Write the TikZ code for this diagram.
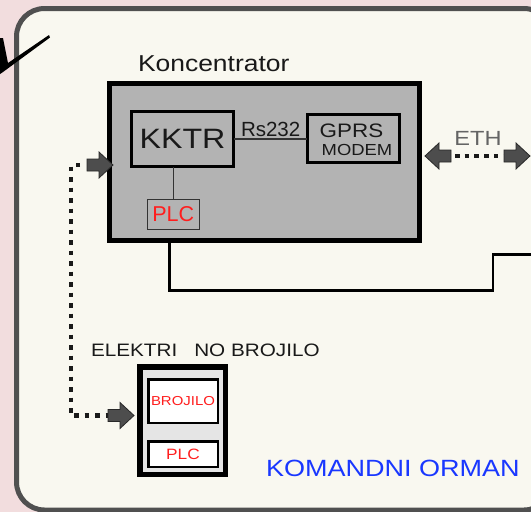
\documentclass[tikz,border=0pt]{standalone}
\usepackage{fontspec}
\setmainfont{Liberation Sans}
\newfontfamily\wf[FakeStretch=1.15]{Liberation Sans}
\newfontfamily\nf{Liberation Sans}
\definecolor{bgpink}{RGB}{242,221,222}
\definecolor{panelfill}{RGB}{249,248,240}
\definecolor{panelline}{RGB}{80,80,80}
\definecolor{koncfill}{RGB}{179,179,179}
\definecolor{brfill}{RGB}{229,229,229}
\definecolor{arrfill}{RGB}{77,77,77}
\definecolor{arrline}{RGB}{40,40,40}
\definecolor{redtxt}{RGB}{255,30,30}
\definecolor{bluetxt}{RGB}{25,55,255}
\definecolor{ethgray}{RGB}{100,100,100}
\definecolor{dotcol}{RGB}{26,26,26}
\tikzset{
  boxnode/.style={draw, rectangle, inner sep=0pt, outer sep=0pt},
  txtnode/.style={inner sep=0pt, outer sep=0pt},
  dotline/.style={draw=dotcol, line width=4.5pt, dash pattern=on 4.5pt off 6pt},
  blockarrow/.pic={\draw[draw=arrline, fill=arrfill, line width=0.8pt, line join=miter]
     (0,-6) -- (12,-6) -- (12,-13) -- (26,0) -- (12,13) -- (12,6) -- (0,6) -- cycle;}
}
\begin{document}
\begin{tikzpicture}[x=1pt,y=-1pt]
\useasboundingbox (0,0) rectangle (531,512);
\fill[bgpink] (0,0) rectangle (531,512);
% panel
\draw[draw=panelline, line width=5pt, fill=panelfill, rounded corners=28pt] (16.5,8.5) rectangle (552,510);
% check mark
\fill[black] (0,38) -- (3,38) -- (8,63) -- (49,35) -- (50,37.5) -- (3,72) -- (0,74) -- cycle;

% labels
\node[txtnode, anchor=base west, font=\wf\fontsize{23pt}{23pt}\selectfont, text=black!90] (klabel) at (138,71) {Koncentrator};

% concentrator
\node[boxnode, line width=5pt, fill=koncfill, minimum width=309.5pt, minimum height=157pt] (konc) at (264.25,162) {};
\node[boxnode, line width=3pt, fill=koncfill, minimum width=102pt, minimum height=55pt,
      font=\wf\fontsize{28pt}{28pt}\selectfont, text=black!90] (kktr) at (182.5,139) {KKTR};
\node[boxnode, draw=black!80, line width=1.3pt, fill=koncfill, minimum width=52pt, minimum height=30pt,
      font=\nf\fontsize{21.5pt}{21.5pt}\selectfont, text=redtxt] (plck) at (173.3,214.3) {PLC};
\node[boxnode, line width=2.8pt, fill=koncfill, minimum width=92.4pt, minimum height=48.4pt] (gprs) at (353.5,138.5) {};
\node[txtnode, anchor=base, font=\wf\fontsize{19.5pt}{19.5pt}\selectfont, text=black!90] (gprstxt) at (351.5,137) {GPRS};
\node[txtnode, anchor=base, font=\wf\fontsize{16pt}{16pt}\selectfont, text=black!90] (modemtxt) at (357,155) {MODEM};
\draw[line width=1.3pt, black!80] (plck.north) -- (plck.north |- kktr.south);
\draw[line width=1.5pt, black!80] (kktr.east) -- (kktr.east -| gprs.west);
\node[txtnode, anchor=base west, font=\nf\fontsize{20.5pt}{20.5pt}\selectfont, text=black!90] (rs) at (241,136) {Rs232};

% ETH
\node[txtnode, anchor=base, font=\wf\fontsize{20.5pt}{20.5pt}\selectfont, text=ethgray] (eth) at (478,145) {ETH};
\coordinate (el) at (451,156);
\coordinate (er) at (504,156);
\draw[draw=dotcol, line width=4.5pt, dash pattern=on 4.5pt off 5.2pt, shorten <=4pt] (el) -- (er);
\pic[rotate=180] at (el) {blockarrow};
\pic at (er) {blockarrow};

% bottom line
\coordinate (kb) at (169.5,243);
\coordinate (b1) at (493,290.5);
\coordinate (bout) at (536,254.5);
\draw[line width=2.2pt, black] (kb) |- (b1) |- (bout);

% meter
\node[txtnode, anchor=base west, font=\wf\fontsize{18pt}{18pt}\selectfont, text=black!90] (eltxt) at (91,356) {ELEKTRI\hspace{17pt}NO BROJILO};
\node[boxnode, line width=5.5pt, fill=brfill, minimum width=85.5pt, minimum height=107.5pt] (broj) at (182.5,420.5) {};
\node[boxnode, line width=2.5pt, fill=white, minimum width=69.5pt, minimum height=43.5pt,
      font=\wf\fontsize{13pt}{13pt}\selectfont, text=redtxt] (brin) at (183,401) {BROJILO};
\node[boxnode, line width=2.5pt, fill=white, minimum width=69.5pt, minimum height=25.5pt,
      font=\wf\fontsize{15pt}{15pt}\selectfont, text=redtxt] (plcb) at (183,454) {PLC};

% dotted link
\coordinate (ka) at (87,165);
\coordinate (ba) at (108,415.5);
\coordinate (lc) at (71,290);
\draw[dotline, shorten <=7pt] (ka) -| (lc) |- (ba);
\pic at (ka) {blockarrow};
\pic at (ba) {blockarrow};

\node[txtnode, anchor=base west, font=\wf\fontsize{23.5pt}{23.5pt}\selectfont, text=bluetxt] (orman) at (266,476) {KOMANDNI ORMAN};
\end{tikzpicture}
\end{document}
